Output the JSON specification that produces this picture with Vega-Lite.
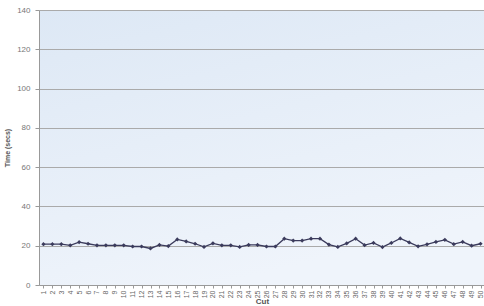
{
  "$schema": "https://vega.github.io/schema/vega-lite/v6.json",
  "autosize": "none",
  "width": 446,
  "height": 275,
  "padding": {"left": 39, "top": 10, "right": 0, "bottom": 21},
  "background": "white",
  "config": {
    "font": "Liberation Sans",
    "view": {
      "stroke": null,
      "fill": {"gradient": "linear", "x1": 0, "y1": 0, "x2": 0.4, "y2": 1, "stops": [{"offset": 0, "color": "#dde8f5"}, {"offset": 1, "color": "#eff4fb"}]}
    }
  },
  "data": {
    "values": [
      {"cut": 1, "time": 20.8}, {"cut": 2, "time": 20.8}, {"cut": 3, "time": 20.8}, {"cut": 4, "time": 20.2}, {"cut": 5, "time": 21.8},
      {"cut": 6, "time": 21.0}, {"cut": 7, "time": 20.2}, {"cut": 8, "time": 20.2}, {"cut": 9, "time": 20.2}, {"cut": 10, "time": 20.2},
      {"cut": 11, "time": 19.6}, {"cut": 12, "time": 19.6}, {"cut": 13, "time": 18.6}, {"cut": 14, "time": 20.4}, {"cut": 15, "time": 19.8},
      {"cut": 16, "time": 23.2}, {"cut": 17, "time": 22.2}, {"cut": 18, "time": 21.0}, {"cut": 19, "time": 19.4}, {"cut": 20, "time": 21.2},
      {"cut": 21, "time": 20.2}, {"cut": 22, "time": 20.2}, {"cut": 23, "time": 19.4}, {"cut": 24, "time": 20.4}, {"cut": 25, "time": 20.4},
      {"cut": 26, "time": 19.6}, {"cut": 27, "time": 19.6}, {"cut": 28, "time": 23.6}, {"cut": 29, "time": 22.6}, {"cut": 30, "time": 22.6},
      {"cut": 31, "time": 23.6}, {"cut": 32, "time": 23.6}, {"cut": 33, "time": 20.6}, {"cut": 34, "time": 19.4}, {"cut": 35, "time": 21.2},
      {"cut": 36, "time": 23.6}, {"cut": 37, "time": 20.3}, {"cut": 38, "time": 21.4}, {"cut": 39, "time": 19.3}, {"cut": 40, "time": 21.4},
      {"cut": 41, "time": 23.7}, {"cut": 42, "time": 21.7}, {"cut": 43, "time": 19.7}, {"cut": 44, "time": 20.7}, {"cut": 45, "time": 21.9},
      {"cut": 46, "time": 23.0}, {"cut": 47, "time": 20.8}, {"cut": 48, "time": 21.9}, {"cut": 49, "time": 20.0}, {"cut": 50, "time": 21.0}
    ]
  },
  "encoding": {
    "x": {
      "field": "cut",
      "type": "ordinal",
      "sort": null,
      "scale": {"paddingInner": 0, "paddingOuter": 0},
      "axis": {
        "title": "Cut",
        "titleFontSize": 8,
        "titleFontWeight": "bold",
        "titleColor": "#555555",
        "titlePadding": 0,
        "labelAngle": -90,
        "labelFontSize": 7,
        "labelColor": "#666666",
        "labelPadding": 2,
        "domainColor": "#999999",
        "tickColor": "#999999",
        "tickSize": 3,
        "grid": false
      }
    },
    "y": {
      "field": "time",
      "type": "quantitative",
      "scale": {"domain": [0, 140], "nice": false},
      "axis": {
        "title": "Time (secs)",
        "titleFontSize": 7,
        "titleFontWeight": "bold",
        "titleColor": "#555555",
        "titlePadding": 6,
        "values": [0, 20, 40, 60, 80, 100, 120, 140],
        "labelFontSize": 8,
        "labelColor": "#777777",
        "labelPadding": 5,
        "domainColor": "#999999",
        "tickColor": "#999999",
        "tickSize": 4,
        "grid": true,
        "gridColor": "#aaaaaa",
        "gridWidth": 1
      }
    }
  },
  "layer": [
    {"mark": {"type": "line", "color": "#3b3b5c", "strokeWidth": 1.3}},
    {"mark": {"type": "point", "shape": "diamond", "filled": true, "color": "#3b3b5c", "size": 18, "opacity": 1}}
  ]
}
